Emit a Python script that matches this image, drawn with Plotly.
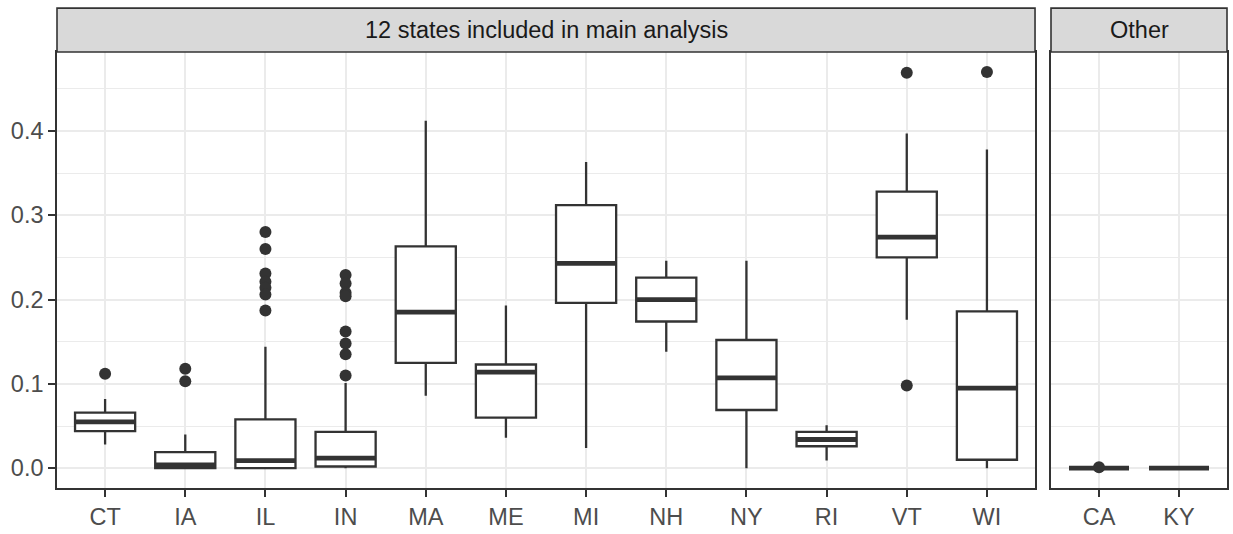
import plotly.graph_objects as go

# ---------------- data ----------------
main_states = ["CT", "IA", "IL", "IN", "MA", "ME", "MI", "NH", "NY", "RI", "VT", "WI"]
main_lower = [0.028, 0.000, 0.000, 0.000, 0.086, 0.036, 0.024, 0.138, 0.000, 0.009, 0.176, 0.000]
main_q1 = [0.044, 0.000, 0.000, 0.002, 0.125, 0.060, 0.196, 0.174, 0.069, 0.026, 0.250, 0.010]
main_median = [0.055, 0.004, 0.009, 0.012, 0.185, 0.114, 0.243, 0.200, 0.107, 0.034, 0.274, 0.095]
main_q3 = [0.066, 0.019, 0.058, 0.043, 0.263, 0.123, 0.312, 0.226, 0.152, 0.043, 0.328, 0.186]
main_upper = [0.082, 0.040, 0.144, 0.101, 0.412, 0.193, 0.363, 0.246, 0.246, 0.051, 0.397, 0.378]
main_outliers = {
    "CT": [0.112],
    "IA": [0.118, 0.103],
    "IL": [0.280, 0.260, 0.231, 0.221, 0.214, 0.206, 0.187],
    "IN": [0.229, 0.219, 0.208, 0.204, 0.162, 0.148, 0.135, 0.110],
    "VT": [0.469, 0.098],
    "WI": [0.470],
}

other_states = ["CA", "KY"]
other_lower = [0.0, 0.0]
other_q1 = [0.0, 0.0]
other_median = [0.0, 0.0]
other_q3 = [0.0, 0.0]
other_upper = [0.0, 0.0]
other_outliers = {"CA": [0.001]}

y_ticks = [0.0, 0.1, 0.2, 0.3, 0.4]
strip_labels = ["12 states included in main analysis", "Other"]

# ---------------- style ----------------
DARK = "#333333"
GRID = "#EBEBEB"
TICKCOL = "#4D4D4D"
FONT = "Liberation Sans, Arial, sans-serif"
BOX_W = 0.75
FS = 23.5

fig = go.Figure()


def add_panel(states, lower, q1, med, q3, upper, outliers, xa, ya):
    pos = list(range(1, len(states) + 1))
    fig.add_trace(go.Box(
        x=pos, q1=q1, median=med, q3=q3, lowerfence=lower, upperfence=upper,
        width=BOX_W, whiskerwidth=0, boxpoints=False,
        fillcolor="white", line=dict(color=DARK, width=2.3),
        xaxis=xa, yaxis=ya, showlegend=False, hoverinfo="skip",
    ))
    # thicker median lines
    mx, my = [], []
    for p, m in zip(pos, med):
        mx += [p - BOX_W / 2, p + BOX_W / 2, None]
        my += [m, m, None]
    fig.add_trace(go.Scatter(
        x=mx, y=my, mode="lines", line=dict(color=DARK, width=4.8),
        xaxis=xa, yaxis=ya, showlegend=False, hoverinfo="skip",
    ))
    # outliers
    ox, oy = [], []
    for p, s in zip(pos, states):
        for v in outliers.get(s, []):
            ox.append(p)
            oy.append(v)
    fig.add_trace(go.Scatter(
        x=ox, y=oy, mode="markers", marker=dict(color=DARK, size=12),
        xaxis=xa, yaxis=ya, showlegend=False, hoverinfo="skip",
    ))
    return pos


pos1 = add_panel(main_states, main_lower, main_q1, main_median, main_q3, main_upper,
                 main_outliers, "x", "y")
pos2 = add_panel(other_states, other_lower, other_q1, other_median, other_q3, other_upper,
                 other_outliers, "x2", "y2")

L, R, T, B = 57, 4, 52, 35
plot_w = 1233 - L - R
d1_end = (1036.7 - L) / plot_w
d2_start = (1052.7 - L) / plot_w

yr = [-0.0235, 0.4936]

common_x = dict(
    showgrid=True, gridcolor=GRID, gridwidth=2,
    showline=True, mirror=True, linecolor=DARK, linewidth=1.6,
    ticks="outside", ticklen=7, tickwidth=1.6, tickcolor=DARK,
    tickfont=dict(family=FONT, size=FS, color=TICKCOL),
    zeroline=False, fixedrange=True,
)
common_y = dict(
    range=yr, showgrid=True, gridcolor=GRID, gridwidth=2,
    minor=dict(dtick=0.05, tick0=0, showgrid=True, gridcolor=GRID, gridwidth=1),
    showline=True, mirror=True, linecolor=DARK, linewidth=1.6,
    zeroline=False, fixedrange=True,
)

fig.update_layout(
    width=1233, height=534,
    margin=dict(l=L, r=R, t=T, b=B),
    paper_bgcolor="white", plot_bgcolor="white",
    xaxis=dict(domain=[0, d1_end], range=[0.4, len(main_states) + 0.6],
               tickvals=pos1, ticktext=main_states, **common_x),
    xaxis2=dict(domain=[d2_start, 1], range=[0.4, len(other_states) + 0.6],
                tickvals=pos2, ticktext=other_states, anchor="y2", **common_x),
    yaxis=dict(domain=[0, 1], tickvals=y_ticks, ticktext=[f"{v:.1f}" for v in y_ticks],
               ticks="outside", ticklen=7, tickwidth=1.6, tickcolor=DARK,
               tickfont=dict(family=FONT, size=FS, color=TICKCOL), anchor="x", **common_y),
    yaxis2=dict(domain=[0, 1], tickvals=y_ticks, showticklabels=False, ticks="",
                anchor="x2", matches="y", **common_y),
)

strip_top = 1 + 45 / (534 - T - B)
for (x0, x1), label in zip([(0, d1_end), (d2_start, 1)], strip_labels):
    fig.add_shape(type="rect", xref="paper", yref="paper", x0=x0, x1=x1, y0=1, y1=strip_top,
                  fillcolor="#D9D9D9", line=dict(color=DARK, width=1.6), layer="above")
    fig.add_annotation(xref="paper", yref="paper", x=(x0 + x1) / 2, y=(1 + strip_top) / 2,
                       text=label, showarrow=False, xanchor="center", yanchor="middle",
                       font=dict(family=FONT, size=FS, color="#1A1A1A"))

fig.write_html(
    "out.html",
    config={"displayModeBar": False},
    post_script="document.body.style.margin='0';document.body.style.overflow='hidden';",
)
